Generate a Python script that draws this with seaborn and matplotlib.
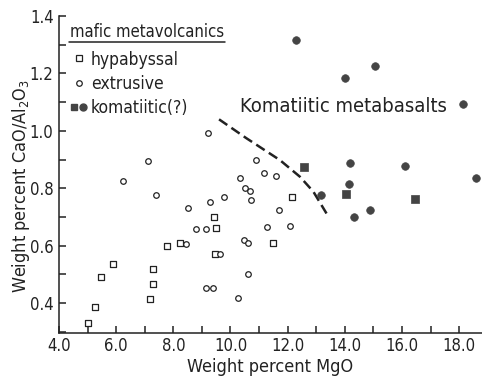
import matplotlib
matplotlib.use("Agg")
import matplotlib.pyplot as plt
from matplotlib.lines import Line2D
from matplotlib.legend_handler import HandlerTuple
from matplotlib.ticker import MultipleLocator, FormatStrFormatter
import pandas as pd
import seaborn as sns

# mafic metavolcanics: hypabyssal (open squares)
hyp_mgo = [5.0, 5.26, 5.46, 5.88, 7.19, 7.28, 7.28, 7.77, 8.23, 9.42, 9.51, 9.45, 11.49, 12.14]
hyp_ratio = [0.33, 0.385, 0.49, 0.535, 0.415, 0.465, 0.52, 0.60, 0.61, 0.70, 0.66, 0.57, 0.61, 0.77]

# extrusive (open circles)
ext_mgo = [6.25, 7.12, 7.39, 8.46, 8.50, 8.81, 9.13, 9.16, 9.20, 9.30, 9.40, 9.63, 9.77, 10.27,
           10.32, 10.48, 10.50, 10.60, 10.62, 10.69, 10.72, 10.90, 11.16, 11.29, 11.59, 11.68, 12.08]
ext_ratio = [0.825, 0.895, 0.775, 0.607, 0.732, 0.658, 0.657, 0.451, 0.993, 0.752, 0.451, 0.570, 0.770, 0.418,
             0.835, 0.620, 0.800, 0.502, 0.608, 0.791, 0.760, 0.897, 0.854, 0.666, 0.843, 0.725, 0.668]

# komatiitic(?) filled squares and filled circles
kom_sq_mgo = [12.57, 14.03, 16.47]
kom_sq_ratio = [0.873, 0.78, 0.762]
kom_ci_mgo = [12.29, 13.15, 14.02, 14.13, 14.17, 14.33, 14.87, 15.05, 16.1, 18.15, 18.6]
kom_ci_ratio = [1.315, 0.777, 1.183, 0.815, 0.887, 0.70, 0.723, 1.226, 0.877, 1.094, 0.837]

# dashed boundary line
bound_mgo = [9.6, 10.56, 11.73, 12.43, 12.9, 13.36]
bound_ratio = [1.04, 0.974, 0.898, 0.84, 0.788, 0.712]

sns.set_theme(style="white")
plt.rcParams["font.family"] = ["DejaVu Sans"]
plt.rcParams["font.stretch"] = "condensed"
plt.rcParams["mathtext.default"] = "regular"

ink = "#222222"
fill = "#444444"

fig = plt.figure(figsize=(4.82, 3.77), dpi=100)
ax = fig.add_axes([0.1224, 0.1167, 0.8776, 0.8408])

hyp = pd.DataFrame({"mgo": hyp_mgo, "ratio": hyp_ratio})
ext = pd.DataFrame({"mgo": ext_mgo, "ratio": ext_ratio})
ksq = pd.DataFrame({"mgo": kom_sq_mgo, "ratio": kom_sq_ratio})
kci = pd.DataFrame({"mgo": kom_ci_mgo, "ratio": kom_ci_ratio})

sns.scatterplot(data=hyp, x="mgo", y="ratio", marker="s", s=20, facecolor="white",
                edgecolor=ink, linewidth=0.9, ax=ax, zorder=3)
sns.scatterplot(data=ext, x="mgo", y="ratio", marker="o", s=16, facecolor="white",
                edgecolor=ink, linewidth=0.9, ax=ax, zorder=3)
sns.scatterplot(data=ksq, x="mgo", y="ratio", marker="s", s=26, color=fill,
                edgecolor=fill, linewidth=0.5, ax=ax, zorder=3)
sns.scatterplot(data=kci, x="mgo", y="ratio", marker="o", s=30, color=fill,
                edgecolor=fill, linewidth=0.5, ax=ax, zorder=3)
sns.lineplot(x=bound_mgo, y=bound_ratio, sort=False, color=ink, lw=1.8,
             dashes=False, ax=ax)
ax.lines[-1].set_dashes([4, 2.0])

ax.set_xlim(4.0, 18.8)
ax.set_ylim(0.2955, 1.40)
ax.xaxis.set_major_locator(MultipleLocator(2))
ax.xaxis.set_minor_locator(MultipleLocator(1))
ax.yaxis.set_major_locator(MultipleLocator(0.2))
ax.yaxis.set_minor_locator(MultipleLocator(0.1))
ax.xaxis.set_major_formatter(FormatStrFormatter("%.1f"))
ax.yaxis.set_major_formatter(FormatStrFormatter("%.1f"))
ax.tick_params(which="both", direction="in", length=5, width=1.1, color=ink,
               labelsize=12, labelcolor=ink, left=True, bottom=True)
ax.tick_params(axis="x", pad=3)
ax.tick_params(axis="y", pad=4)
sns.despine(ax=ax)
for side in ["left", "bottom"]:
    ax.spines[side].set_color(ink)
    ax.spines[side].set_linewidth(1.1)

ax.set_xlabel("Weight percent MgO", fontsize=13, color=ink, labelpad=2)
ax.set_ylabel("Weight percent CaO/Al$_2$O$_3$", fontsize=13, color=ink)
ax.yaxis.set_label_coords(-0.064, 0.465)

ax.text(10.33, 1.083, "Komatiitic metabasalts", fontsize=14.5, color=ink,
        ha="left", va="center")

h_hyp = Line2D([], [], marker="s", ls="", mfc="white", mec=ink, ms=4.5, mew=0.9)
h_ext = Line2D([], [], marker="o", ls="", mfc="white", mec=ink, ms=4.0, mew=0.9)
h_ksq = Line2D([], [], marker="s", ls="", mfc=fill, mec=fill, ms=5.0)
h_kci = Line2D([], [], marker="o", ls="", mfc=fill, mec=fill, ms=5.0)
leg = ax.legend([h_hyp, h_ext, (h_ksq, h_kci)], ["hypabyssal", "extrusive", "komatiitic(?)"],
                title="mafic metavolcanics", loc="upper left", bbox_to_anchor=(0.026, 0.978),
                frameon=False, borderpad=0, borderaxespad=0, handlelength=1.0,
                handletextpad=0.2, labelspacing=0.35, fontsize=12.5, title_fontsize=12,
                handler_map={tuple: HandlerTuple(ndivide=None, pad=0.1)})
leg._legend_box.align = "left"
leg._legend_box.sep = 0.35 * 12.5 + 2.5
for t in leg.get_texts():
    t.set_color(ink)
leg.get_title().set_color(ink)

fig.canvas.draw()
bb = leg.get_title().get_window_extent()
W, H = fig.bbox.width, fig.bbox.height
fig.add_artist(Line2D([(bb.x0 - 1) / W, (bb.x1 + 1) / W], [(bb.y0 - 1) / H] * 2,
                      transform=fig.transFigure, color=ink, lw=1.1))

fig.savefig("out.png", dpi=100)
